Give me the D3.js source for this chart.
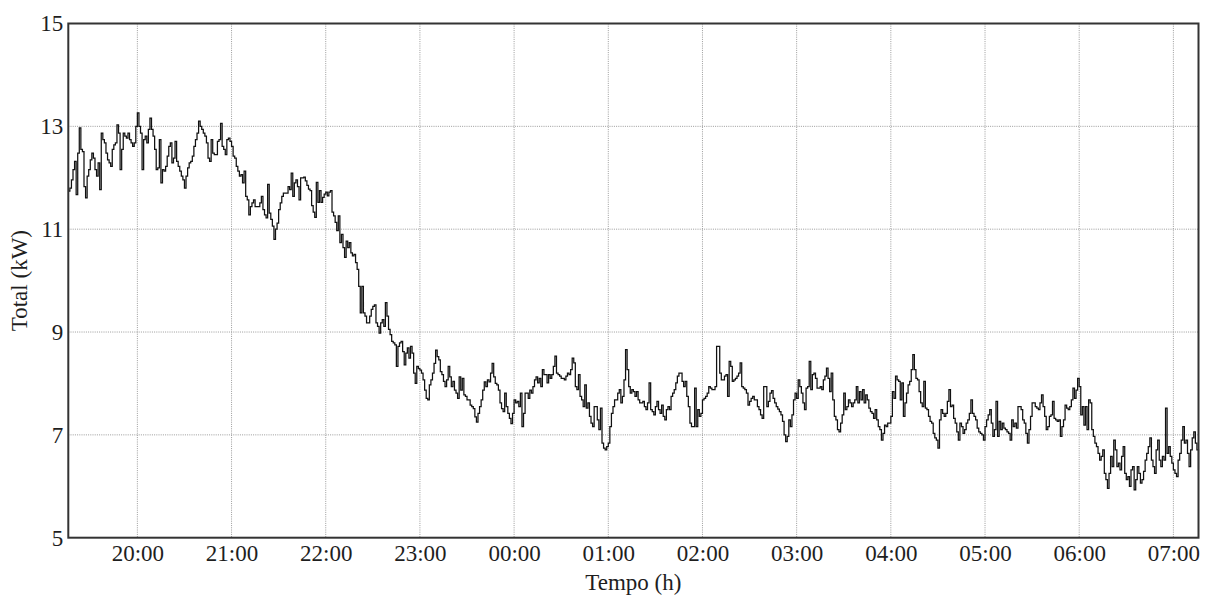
<!DOCTYPE html>
<html><head><meta charset="utf-8">
<script src="https://cdn.jsdelivr.net/npm/d3@7"></script>
<style>
html,body{margin:0;padding:0;background:#fff;}
svg{display:block;}
text{font-family:"Liberation Serif","Times New Roman",serif;fill:#1e1e1e;}
</style></head><body>
<svg id="chart" width="1211" height="597"></svg>
<script>
// ---- data (one reading per minute, starting 19:16) ----
const startTime = "19:16";
const stepMinutes = 1;
const yTicks = [5, 7, 9, 11, 13, 15];
const yGrid = [7, 9, 11, 13];
const xTickLabels = ["20:00","21:00","22:00","23:00","00:00","01:00","02:00","03:00","04:00","05:00","06:00","07:00"];
const yLabel = "Total (kW)";
const xLabel = "Tempo (h)";

const kw19 = [11.74,11.80,11.96,12.16,12.32,11.67,12.48,12.97,12.55,12.51,11.83,11.61,12.03,12.16,12.35,12.48,12.38,12.16,12.03,12.29,11.77,12.87,12.74,12.68,12.48,12.35,12.29,12.22,12.55,12.64,12.68,13.03,12.87,12.16,12.55,12.87,12.81,12.77,12.87,12.74,12.68,12.61,12.68,13.0];
const kw20 = [13.26,13.0,12.87,12.16,12.74,12.81,12.68,12.94,13.16,12.94,12.81,12.55,12.16,12.19,12.74,11.90,12.16,12.13,12.22,12.42,12.61,12.68,12.29,12.38,12.71,12.32,12.22,12.13,12.03,11.96,11.80,12.03,12.19,12.29,12.32,12.42,12.61,12.74,12.87,13.10,13.0,12.94,12.87,12.81,12.68,12.38,12.32,12.74,12.48,12.45,12.45,12.71,12.74,13.06,12.61,12.55,12.45,12.74,12.77,12.71];
const kw21 = [12.61,12.42,12.38,12.22,12.13,12.03,12.06,11.90,12.13,11.64,11.57,11.28,11.44,11.51,11.57,11.44,11.44,11.44,11.51,11.64,11.38,11.28,11.22,11.87,11.31,11.19,11.06,10.80,11.0,11.12,11.38,11.51,11.64,11.70,11.70,11.70,11.83,11.77,12.09,11.64,11.90,11.96,11.83,11.57,12.0,12.0,
  12.01,11.94,11.85,11.78,11.75,11.46,11.33,11.23,11.91,11.52,11.75,11.52,11.62,11.68];
const kw22 = [11.72,11.65,11.72,11.75,11.33,11.26,11.13,10.97,11.26,10.74,10.90,10.64,10.45,10.77,10.64,10.74,10.54,10.48,10.51,10.35,10.22,9.89,9.37,9.89,9.37,9.31,9.18,9.18,9.31,9.44,9.50,9.53,9.18,9.11,8.98,9.18,9.24,9.11,9.57,9.31,9.05,8.95,8.82,8.79,8.75,8.33,8.72,8.79,8.82,8.62,8.36,8.59,8.69,8.49,8.72,8.59,8.20,8.00,8.33,8.29];
const kw23 = [8.26,8.20,8.07,7.87,7.71,7.68,7.97,8.07,8.20,8.39,8.65,8.52,8.46,8.23,8.17,8.04,7.94,8.07,8.33,8.13,7.94,8.04,7.87,7.81,7.71,8.13,7.87,8.10,7.78,7.75,7.68,7.68,7.58,7.55,7.51,7.35,7.25,7.42,7.55,7.68,7.87,8.03,7.94,8.07,8.03,8.20,8.39,8.13,8.00,7.97,7.87,7.62,7.51,7.45,7.81,7.55,7.42,7.32,7.22,7.42];
const kw00 = [7.68,7.62,7.65,7.55,7.81,7.16,7.42,7.81,7.81,7.71,7.87,7.81,7.94,8.07,8.13,
  8.01,8.10,7.94,8.27,8.17,8.17,8.01,8.17,8.10,8.17,8.33,8.53,8.20,8.17,8.14,8.10,8.10,8.07,8.14,8.20,8.17,8.27,8.49,8.40,7.94,7.88,8.17,7.75,7.68,7.55,7.97,7.52,7.62,7.36,7.23,7.16,7.55,7.55,7.29,7.10,7.52,6.84,6.74,6.71,6.77];
const kw01 = [6.84,7.16,7.42,7.55,7.68,7.68,7.81,7.88,7.62,7.75,8.07,8.66,8.27,7.94,7.81,7.88,7.84,7.75,7.84,7.68,7.62,7.62,7.65,7.55,7.49,7.62,8.01,7.49,7.45,7.39,7.55,7.65,7.49,7.42,7.58,7.36,7.29,7.49,7.55,7.49,7.75,7.81,7.88,8.01,8.14,8.20,8.20,8.04,7.94,8.04,7.75,7.55,7.23,7.16,7.16,7.91,7.16,7.49,7.36,7.42];
const kw02 = [7.68,7.71,7.75,7.81,7.94,7.91,7.88,7.88,7.94,8.72,8.72,8.20,8.07,8.07,8.14,8.17,7.75,8.43,8.33,8.04,8.07,8.10,8.14,8.20,8.40,7.94,7.91,7.88,7.81,7.58,7.65,7.71,7.75,7.68,7.68,7.55,7.49,7.39,7.32,7.94,
  7.94,7.55,7.65,7.81,7.86,7.71,7.62,7.55,7.50,7.45,7.39,7.26,7.00,6.87,6.97,7.29,7.16,7.39,7.68,7.81];
const kw03 = [7.71,8.07,7.94,7.81,7.62,7.49,7.91,7.94,8.43,7.88,8.17,8.20,8.10,7.91,7.91,7.94,7.88,8.07,8.14,8.30,8.10,7.84,8.20,7.68,7.36,7.29,7.10,7.06,7.23,7.39,7.81,7.49,7.55,7.68,7.62,7.55,7.62,7.68,7.94,7.62,7.84,7.68,7.88,7.62,7.78,7.68,7.52,7.45,7.42,7.32,7.49,7.29,7.16,7.10,6.90,7.03,7.19,7.16,7.23,7.23];
const kw04 = [7.36,7.84,7.71,8.14,8.07,8.04,7.68,8.01,7.36,7.62,7.81,7.97,8.04,8.27,8.56,8.27,8.10,8.07,7.84,7.62,7.55,8.04,7.52,7.49,7.36,7.26,7.23,7.03,6.94,6.90,6.74,7.29,7.49,7.42,7.36,7.42,7.65,7.88,7.55,7.58,7.32,7.23,7.06,6.90,7.23,7.16,7.03,7.10,7.23,7.29,7.42,7.68,7.42,7.36,7.29,7.13,7.06,7.03,7.00,6.90];
const kw05 = [7.16,7.29,7.39,7.49,7.23,6.97,7.10,7.65,6.97,7.26,7.10,7.23,7.13,7.10,7.06,7.03,6.90,7.29,7.16,7.23,7.13,7.55,7.55,7.49,7.29,7.23,7.03,6.84,7.10,7.36,7.62,7.62,7.55,7.52,7.49,7.62,7.78,7.55,7.36,7.10,7.16,7.36,7.39,7.65,7.32,7.29,7.26,7.29,6.97,7.16,7.29,7.58,7.52,7.49,7.55,7.68,7.91,7.71,7.87,8.10];
const kw06 = [7.94,7.39,7.55,7.19,7.55,7.10,7.68,7.62,7.10,6.97,6.84,6.77,6.64,6.51,6.58,6.71,6.25,6.13,5.96,6.25,6.58,6.38,6.90,6.71,6.38,6.45,6.32,6.58,6.77,6.25,6.13,6.19,6.00,6.32,6.38,5.93,6.13,6.38,6.25,6.06,6.13,6.29,6.51,6.64,6.77,6.94,6.51,6.38,6.25,6.71,6.90,6.51,6.38,6.58,6.51,7.52,6.64,6.77,6.58,6.45];
const kw07 = [6.32,6.25,6.19,6.51,6.64,6.90,7.16,6.84,6.90,6.64,6.38,6.71,6.94,7.06,6.84,6.71,6.32];

const values = [].concat(kw19, kw20, kw21, kw22, kw23, kw00, kw01, kw02, kw03, kw04, kw05, kw06, kw07);

// ---- build ----
const [sh, sm] = startTime.split(":").map(Number);
const t0 = new Date(2000, 0, 1, sh, sm);
const series = values.map((v, i) => ({t: d3.timeMinute.offset(t0, i * stepMinutes), v}));
const tEnd = series[series.length - 1].t;
const tickDates = xTickLabels.map(s => {
  const [h, m] = s.split(":").map(Number);
  return new Date(2000, 0, h < sh ? 2 : 1, h, m);
});

const W = 1211, H = 597;
const M = {left: 68.3, top: 23.5, right: 12.5, bottom: 59.3};
const svg = d3.select("#chart");

const x = d3.scaleTime().domain([t0, tEnd]).range([M.left, W - M.right]);
const y = d3.scaleLinear().domain([yTicks[0], yTicks[yTicks.length - 1]]).range([H - M.bottom, M.top]);

// grid
const grid = svg.append("g").attr("stroke", "#9a9a9a").attr("stroke-width", 1).attr("stroke-dasharray", "1,1.2");
grid.selectAll("line.v").data(tickDates).join("line")
  .attr("x1", d => x(d)).attr("x2", d => x(d)).attr("y1", y.range()[1]).attr("y2", y.range()[0]);
grid.selectAll("line.h").data(yGrid).join("line")
  .attr("x1", x.range()[0]).attr("x2", x.range()[1]).attr("y1", d => y(d)).attr("y2", d => y(d));

// line
svg.append("path").datum(series)
  .attr("fill", "none").attr("stroke", "#111").attr("stroke-width", 1.25)
  .attr("stroke-linejoin", "miter")
  .attr("d", d3.line().x(d => x(d.t)).y(d => y(d.v)).curve(d3.curveStepAfter));

// frame
svg.append("rect")
  .attr("x", x.range()[0]).attr("y", y.range()[1])
  .attr("width", x.range()[1] - x.range()[0]).attr("height", y.range()[0] - y.range()[1])
  .attr("fill", "none").attr("stroke", "#333").attr("stroke-width", 2);

// axes
const gx = svg.append("g").attr("transform", `translate(0,${y.range()[0]})`)
  .call(d3.axisBottom(x).tickValues(tickDates).tickFormat((d, i) => xTickLabels[i]).tickSize(0).tickPadding(6.5));
const gy = svg.append("g").attr("transform", `translate(${x.range()[0]},0)`)
  .call(d3.axisLeft(y).tickValues(yTicks).tickFormat(d3.format("d")).tickSize(0).tickPadding(5));
[gx, gy].forEach(g => {
  g.select(".domain").remove();
  g.selectAll("text").attr("font-family", "Liberation Serif, Times New Roman, serif")
    .attr("font-size", 23).attr("fill", "#1e1e1e");
});

// axis titles
svg.append("text").attr("x", (x.range()[0] + x.range()[1]) / 2).attr("y", 590)
  .attr("text-anchor", "middle").attr("font-size", 23).text(xLabel);
svg.append("text").attr("transform", `translate(26.5,${(y.range()[0] + y.range()[1]) / 2}) rotate(-90)`)
  .attr("text-anchor", "middle").attr("font-size", 23).text(yLabel);
</script>
</body></html>
